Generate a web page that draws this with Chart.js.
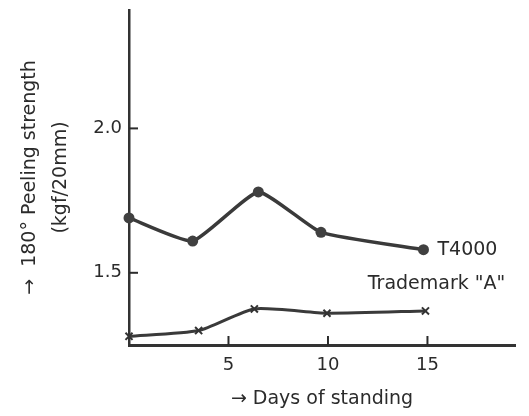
<!DOCTYPE html>
<html>
<head>
<meta charset="utf-8">
<script src="https://cdn.jsdelivr.net/npm/chart.js@4.4.1/dist/chart.umd.min.js"></script>
<style>
  html, body { margin: 0; padding: 0; background: #fff; }
  #wrap { width: 529px; height: 416px; }
</style>
</head>
<body>
<div id="wrap"><canvas id="peelChart"></canvas></div>
<script>
// Values
const t4000Days = [0, 3.2, 6.5, 9.65, 14.8];
const t4000Strength = [1.69, 1.61, 1.78, 1.64, 1.58];
const brandADays = [0, 3.5, 6.3, 9.95, 14.9];
const brandAStrength = [1.28, 1.30, 1.375, 1.36, 1.368];
const xTickValues = [5, 10, 15];
const yTickValues = [1.5, 2.0];

const INK = '#2b2b2b';
const FONT = 'DejaVu Sans';

function toPoints(xs, ys) {
  return xs.map((x, i) => ({ x: x, y: ys[i] }));
}

// small inward tick marks + series labels
const inwardTicks = {
  id: 'inwardTicks',
  afterDraw(chart) {
    const { ctx, chartArea, scales } = chart;
    ctx.save();
    ctx.strokeStyle = INK;
    ctx.lineWidth = 2;
    yTickValues.forEach(v => {
      const y = scales.y.getPixelForValue(v);
      ctx.beginPath();
      ctx.moveTo(chartArea.left, y);
      ctx.lineTo(chartArea.left + 9, y);
      ctx.stroke();
    });
    xTickValues.forEach(v => {
      const x = scales.x.getPixelForValue(v);
      ctx.beginPath();
      ctx.moveTo(x, chartArea.bottom);
      ctx.lineTo(x, chartArea.bottom - 9);
      ctx.stroke();
    });

    ctx.fillStyle = INK;
    ctx.font = '19px "' + FONT + '"';
    ctx.textBaseline = 'middle';
    const last = t4000Days.length - 1;
    const lx = scales.x.getPixelForValue(t4000Days[last]);
    const ly = scales.y.getPixelForValue(t4000Strength[last]);
    ctx.fillText('T4000', lx + 14, ly);
    ctx.fillText('Trademark "A"', scales.x.getPixelForValue(12.0), scales.y.getPixelForValue(1.462));
    ctx.restore();
  }
};

const ctx = document.getElementById('peelChart').getContext('2d');
window._peelChart = new Chart(ctx, {
  type: 'line',
  data: {
    datasets: [
      {
        label: 'T4000',
        data: toPoints(t4000Days, t4000Strength),
        borderColor: '#3a3a3a',
        borderWidth: 3.5,
        backgroundColor: '#404040',
        pointStyle: 'circle',
        pointRadius: 5.5,
        pointBorderWidth: 0,
        tension: 0.15,
        clip: false
      },
      {
        label: 'Trademark "A"',
        data: toPoints(brandADays, brandAStrength),
        borderColor: '#3a3a3a',
        borderWidth: 3,
        backgroundColor: '#333',
        pointStyle: 'crossRot',
        pointRadius: 5,
        pointBorderWidth: 2,
        pointBorderColor: '#333',
        tension: 0.2,
        clip: false
      }
    ]
  },
  options: {
    responsive: true,
    maintainAspectRatio: false,
    animation: false,
    layout: { padding: { left: 0, top: 10, right: 14, bottom: 0 } },
    plugins: {
      legend: { display: false },
      tooltip: { enabled: false }
    },
    scales: {
      x: {
        type: 'linear',
        min: 0,
        max: 19.4,
        afterBuildTicks: s => { s.ticks = xTickValues.map(v => ({ value: v })); },
        afterFit: s => { s.height = 71; s.paddingLeft = 0; s.paddingRight = 0; },
        grid: { display: false, drawTicks: false },
        border: { display: true, color: '#333', width: 3 },
        ticks: { color: INK, font: { family: FONT, size: 18 }, padding: 10 },
        title: {
          display: true,
          text: '→ Days of standing',
          color: INK,
          font: { family: FONT, size: 19 },
          padding: { top: 0, bottom: 6 }
        }
      },
      y: {
        min: 1.25,
        max: 2.41,
        afterBuildTicks: s => { s.ticks = yTickValues.map(v => ({ value: v })); },
        afterFit: s => { s.width = 129; s.paddingTop = 0; s.paddingBottom = 0; },
        grid: { display: false, drawTicks: false },
        border: { display: true, color: '#333', width: 2.5 },
        ticks: {
          color: INK,
          font: { family: FONT, size: 18 },
          padding: 7,
          callback: v => v.toFixed(1)
        },
        title: {
          display: true,
          text: ['→  180° Peeling strength', '(kgf/20mm)'],
          color: INK,
          font: { family: FONT, size: 19, lineHeight: 1.65 },
          padding: { top: 14, bottom: 0 }
        }
      }
    }
  },
  plugins: [inwardTicks]
});
</script>
</body>
</html>
